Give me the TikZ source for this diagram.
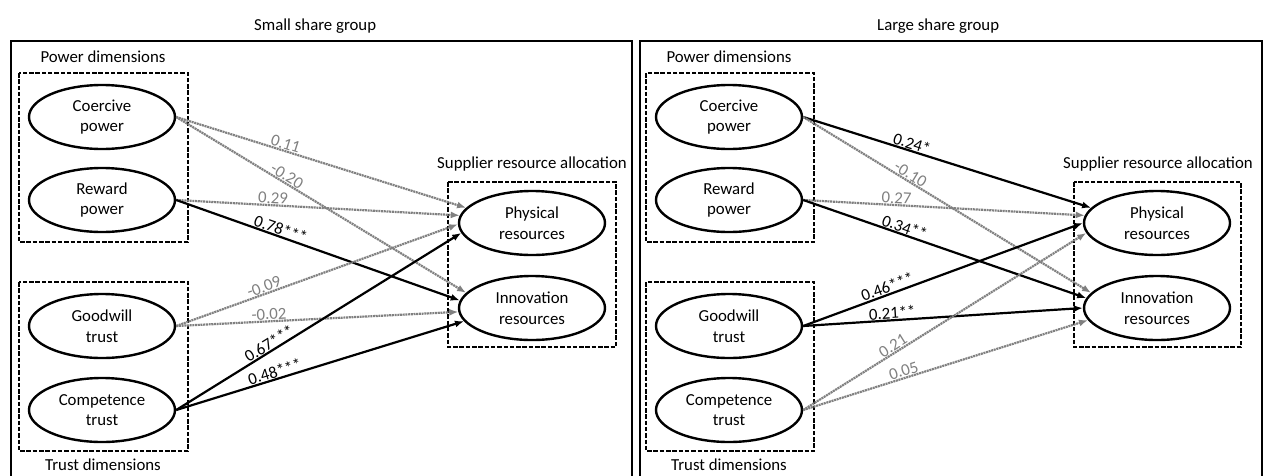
\documentclass[tikz,border=0pt]{standalone}
\usepackage{fontspec}
\setmainfont{Carlito}
\usetikzlibrary{shapes.geometric,arrows.meta}
\definecolor{midgray}{RGB}{128,128,128}
\newcommand\fs{\fontsize{16.8}{20.5}\selectfont}
\begin{document}
\begin{tikzpicture}[x=1pt,y=-1pt,
  latent/.style={ellipse, draw, line width=2.4pt, minimum width=146pt, minimum height=64pt, inner sep=0pt, align=center, font=\fs},
  grp/.style={draw, line width=2.4pt, dash pattern=on 4.5pt off 1.8pt},
  sig/.style={draw=black, line width=2.2pt, -{Latex[length=9pt,width=7pt]}},
  ns/.style={draw=midgray, line width=2.2pt, dash pattern=on 2pt off 0.7pt, -{Latex[length=9pt,width=7pt]}},
  lab/.style={sloped, above, inner sep=0.5pt, font=\fs},
  glab/.style={lab, text=midgray},
  txt/.style={font=\fs, inner sep=0pt, anchor=base},
  panel/.style={draw, line width=1.8pt}
]
\useasboundingbox (0,0) rectangle (1263,475);

% ---------------- left panel ----------------
\node[txt, anchor=base west] (L-title) at (254,30) {Small share group};
\draw[panel] (11,477) -- (11,41) -- (632,41) -- (632,477);
\node[txt] (L-pd) at (103,62) {Power dimensions};
\node[txt] (L-td) at (103,470) {Trust dimensions};
\node[txt] (L-sr) at (532,168) {Supplier resource allocation};
\draw[grp] (19,73) rectangle (188,242);
\draw[grp] (19,282) rectangle (188,451);
\draw[grp] (448,182) rectangle (616,347);
\node[latent] (L-co) at (102,117) {Coercive\\power};
\node[latent] (L-re) at (102,200) {Reward\\power};
\node[latent] (L-gw) at (102,326) {Goodwill\\trust};
\node[latent] (L-ct) at (102,410) {Competence\\trust};
\node[latent] (L-ph) at (532,223) {Physical\\resources};
\node[latent] (L-in) at (532,308) {Innovation\\resources};

\draw[ns] (L-co.east) -- (L-ph.167) node[glab, pos=.37] {0.11};
\draw[ns] (L-co.east) -- (L-in.167) node[glab, pos=.37] {-0.20};
\draw[ns] (L-re.east) -- (L-ph.174) node[glab, pos=.34] {0.29};
\draw[sig] (L-re.east) -- (L-in.174) node[lab, pos=.36] {0.78***};
\draw[ns] (L-gw.east) -- (L-ph.181) node[glab, pos=.32] {-0.09};
\draw[ns] (L-gw.east) -- (L-in.183) node[glab, pos=.33] {-0.02};
\draw[sig] (L-ct.east) -- (L-ph.188) node[lab, pos=.34] {0.67***};
\draw[sig] (L-ct.east) -- (L-in.191) node[lab, pos=.35] {0.48***};

% ---------------- right panel ----------------
\node[txt, anchor=base west] (R-title) at (877,30) {Large share group};
\draw[panel] (640,477) -- (640,41) -- (1262,41) -- (1262,477);
\begin{scope}[xshift=626pt]
\node[txt] (R-pd) at (103,62) {Power dimensions};
\node[txt] (R-td) at (103,470) {Trust dimensions};
\node[txt] (R-sr) at (532,168) {Supplier resource allocation};
\draw[grp] (20,73) rectangle (188,242);
\draw[grp] (20,282) rectangle (188,451);
\draw[grp] (448,182) rectangle (615,347);
\node[latent] (R-co) at (103,117) {Coercive\\power};
\node[latent] (R-re) at (103,200) {Reward\\power};
\node[latent] (R-gw) at (103,326) {Goodwill\\trust};
\node[latent] (R-ct) at (103,410) {Competence\\trust};
\node[latent] (R-ph) at (531,223) {Physical\\resources};
\node[latent] (R-in) at (531,308) {Innovation\\resources};
\end{scope}

\draw[sig] (R-co.east) -- (R-ph.167) node[lab, pos=.37] {0.24*};
\draw[ns] (R-co.east) -- (R-in.167) node[glab, pos=.36] {-0.10};
\draw[ns] (R-re.east) -- (R-ph.174) node[glab, pos=.33] {0.27};
\draw[sig] (R-re.east) -- (R-in.172) node[lab, pos=.35] {0.34**};
\draw[sig] (R-gw.east) -- (R-ph.180) node[lab, pos=.31] {0.46***};
\draw[sig] (R-gw.east) -- (R-in.180) node[lab, pos=.32] {0.21**};
\draw[ns] (R-ct.east) -- (R-ph.188) node[glab, pos=.33] {0.21};
\draw[ns] (R-ct.east) -- (R-in.190) node[glab, pos=.36] {0.05};
\end{tikzpicture}
\end{document}
